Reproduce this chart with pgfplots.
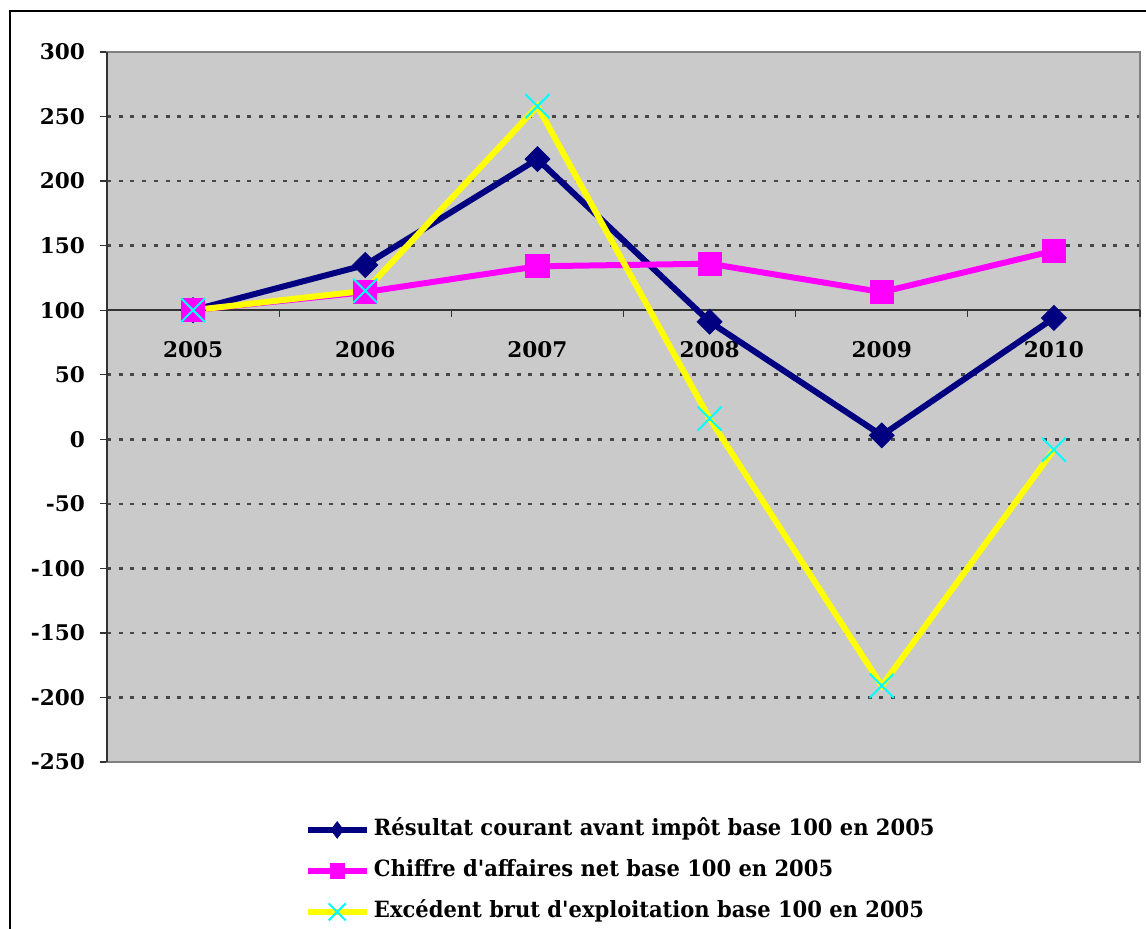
\documentclass[border=0pt]{standalone}
\usepackage{fontspec}
\setmainfont{DejaVu Serif}
\newfontfamily\legfont[FakeStretch=0.94]{DejaVu Serif}
\usepackage{pgfplots}
\pgfplotsset{compat=1.18}
\definecolor{navyc}{HTML}{000080}
\definecolor{magc}{HTML}{FF00FF}
\definecolor{yelc}{HTML}{FFFF00}
\definecolor{cyanc}{HTML}{00FFFF}
\definecolor{plotgray}{HTML}{CACACA}
\begin{document}
\begin{tikzpicture}
\begin{axis}[
  at={(53.5pt,-26pt)}, anchor=north west,
  scale only axis, width=516.5pt, height=355pt,
  xmin=-0.5, xmax=5.5, ymin=-250, ymax=300,
  xtick={0,1,2,3,4,5},
  xticklabels={2005,2006,2007,2008,2009,2010},
  ytick={-250,-200,...,300},
  ymajorgrids,
  grid style={black!72, line width=1.3pt, dash pattern=on 2pt off 3.85pt},
  axis background/.style={fill=plotgray},
  axis line style={draw=black!50, line width=0.6pt},
  tick align=outside, major tick length=3.5pt,
  ytick pos=left,
  xtick style={draw=none},
  ytick style={draw=black!80, line width=0.6pt},
  tick label style={font=\bfseries\fontsize{10.8}{13}\selectfont},
  /pgf/number format/assume math mode=true,
  yticklabel style={xshift=-4pt},
  xticklabel style={anchor=center, yshift=209.5pt},
  clip=false,
  legend cell align=left,
  legend image code/.code={\draw[mark repeat=2, mark phase=2, #1] plot coordinates {(0pt,0pt) (14.75pt,0pt) (29.5pt,0pt)};},
  legend style={at={(axis description cs:0.1907,-0.0747)}, anchor=north west,
    draw=none, fill=none, inner sep=0pt, row sep=6pt, column sep=0pt,
    font=\legfont\bfseries\fontsize{11.2}{13}\selectfont,
    nodes={inner sep=2pt, text height=8pt, text depth=2.5pt}},
]
% category axis crossing at 100
\draw[black!80, line width=0.7pt] (axis cs:-0.5,100) -- (axis cs:5.5,100);
\pgfplotsinvokeforeach{-0.5,0.5,1.5,2.5,3.5,4.5,5.5}{
  \draw[black!80, line width=0.6pt] (axis cs:#1,100) -- ++(0pt,-3.5pt);
}
\addlegendimage{navyc, line width=3.3pt, mark=diamond*, mark size=4.2pt, mark options={line width=0.3pt, fill=navyc}}
\addlegendentry{Résultat courant avant impôt base 100 en 2005}
\addlegendimage{magc, line width=3.3pt, mark=square*, mark size=3.6pt, mark options={line width=0.3pt, fill=magc}}
\addlegendentry{Chiffre d'affaires net base 100 en 2005}
\addlegendimage{yelc, line width=3.3pt, mark=x, mark size=6pt, mark options={cyanc, line width=1pt}}
\addlegendentry{Excédent brut d'exploitation base 100 en 2005}
% lines
\addplot[navyc, line width=3pt, mark=none, forget plot] coordinates {(0,100) (1,135) (2,217) (3,91) (4,3) (5,94)};
\addplot[magc, line width=3pt, mark=none, forget plot] coordinates {(0,100) (1,114) (2,134) (3,136) (4,114) (5,146)};
\addplot[yelc, line width=3pt, mark=none, forget plot] coordinates {(0,100) (1,115) (2,258) (3,16) (4,-191) (5,-8)};
% markers
\addplot[only marks, mark=square*, mark size=4.4pt, mark options={rotate=45, draw=navyc, fill=navyc, line width=0.4pt}, forget plot] coordinates {(0,100) (1,135) (2,217) (3,91) (4,3) (5,94)};
\addplot[only marks, mark=square*, mark size=5.8pt, mark options={draw=magc, fill=magc, line width=0.4pt}, forget plot] coordinates {(0,100) (1,114) (2,134) (3,136) (4,114) (5,146)};
\addplot[only marks, mark=x, mark size=8.5pt, mark options={draw=cyanc, line width=1pt}, forget plot] coordinates {(0,100) (1,115) (2,258) (3,16) (4,-191) (5,-8)};
\draw[black!80, line width=0.7pt] (rel axis cs:0,0) -- (rel axis cs:0,1);
\end{axis}
\draw[black, line width=1pt] (5pt,-490pt) -- (5pt,-5.5pt) -- (600pt,-5.5pt);
\pgfresetboundingbox
\useasboundingbox (0pt,0pt) rectangle (573pt,-464.5pt);
\end{tikzpicture}
\end{document}
